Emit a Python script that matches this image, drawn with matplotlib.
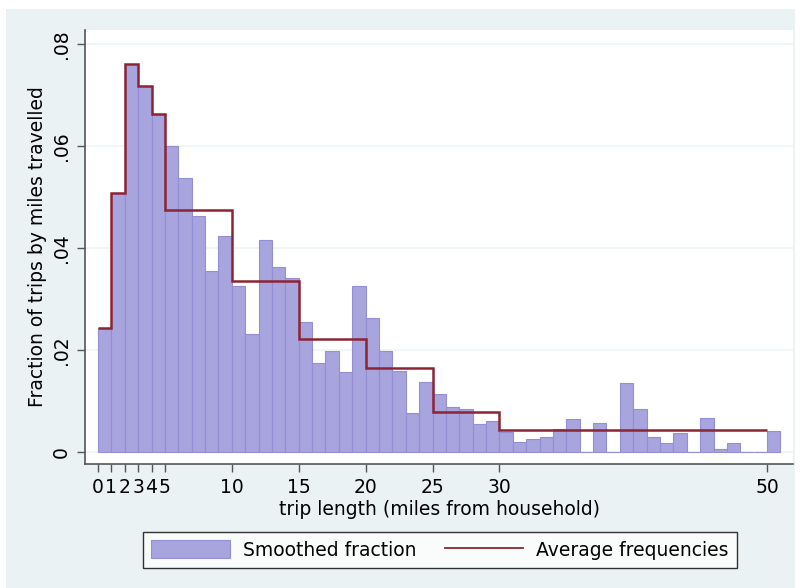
import matplotlib
matplotlib.use("Agg")
import matplotlib.pyplot as plt
from matplotlib.patches import Rectangle, Patch
from matplotlib.lines import Line2D

plt.rcParams['font.family'] = ['DejaVu Sans']

# Data
miles = list(range(0, 51))
smoothed_fraction = [
    0.0243, 0.0508, 0.0760, 0.0718, 0.0662, 0.0600, 0.0537, 0.0462, 0.0354, 0.0424,
    0.0326, 0.0230, 0.0415, 0.0362, 0.0340, 0.0255, 0.0174, 0.0198, 0.0156, 0.0325,
    0.0263, 0.0198, 0.0158, 0.0076, 0.0137, 0.0114, 0.0088, 0.0083, 0.0054, 0.0060,
    0.0039, 0.0020, 0.0025, 0.0029, 0.0044, 0.0065, 0.0, 0.0056, 0.0, 0.0135,
    0.0084, 0.0029, 0.0018, 0.0036, 0.0, 0.0067, 0.0005, 0.0018, 0.0, 0.0,
    0.0041,
]
avg_edges = [0, 1, 2, 3, 4, 5, 10, 15, 20, 25, 30, 50]
avg_freq = [0.0243, 0.0508, 0.0760, 0.0718, 0.0662, 0.0475, 0.0335, 0.0222, 0.0165, 0.0078, 0.0043]

xticks = [0, 1, 2, 3, 4, 5, 10, 15, 20, 25, 30, 50]
yticks = [0, 0.02, 0.04, 0.06, 0.08]
ytick_labels = ["0", ".02", ".04", ".06", ".08"]

FS = 13.5
W, H = 801, 588
fig = plt.figure(figsize=(W / 100, H / 100), dpi=100, facecolor='white')
fig.patches.append(Rectangle((6 / W, 0), 789 / W, (H - 9) / H, transform=fig.transFigure,
                             facecolor='#eaf2f3', edgecolor='none', zorder=-10))

ax = fig.add_axes([85 / W, (H - 464) / H, (793 - 85) / W, (464 - 30) / H])
ax.set_facecolor('white')

bar_color = (0.66, 0.645, 0.865)
ax.bar(miles, smoothed_fraction, width=1.0, align='edge', color=bar_color,
       edgecolor=(0.58, 0.56, 0.83), linewidth=0.8, zorder=2)
ax.stairs(avg_freq, avg_edges, baseline=None, color='#8c2434', linewidth=1.8, zorder=3)

ax.set_xlim(-0.97, 51.94)
ax.set_ylim(-0.0024, 0.0827)

ax.set_yticks(yticks)
ax.set_yticklabels(ytick_labels, rotation=90, va='center', fontsize=FS)
ax.set_xticks(xticks)
ax.set_xticklabels([str(t) for t in xticks], fontsize=FS)
ax.yaxis.grid(True, color='#edf3f5', linewidth=1.2, zorder=0)
ax.set_axisbelow(True)

for s in ['top', 'right']:
    ax.spines[s].set_visible(False)
for s in ['left', 'bottom']:
    ax.spines[s].set_color('#555555')
    ax.spines[s].set_linewidth(1.2)
ax.tick_params(axis='both', direction='out', length=6, width=1.0, color='#555555', pad=4)

ax.set_xlabel('trip length (miles from household)', fontsize=FS, labelpad=2)
ax.set_ylabel('Fraction of trips by miles travelled', fontsize=FS, labelpad=4)

handles = [Patch(facecolor=bar_color, edgecolor=(0.58, 0.56, 0.83), linewidth=0.8),
           Line2D([0], [0], color='#8c2434', linewidth=1.3)]
leg = fig.legend(handles, ['Smoothed fraction', 'Average frequencies'], ncol=2,
                 loc='center', bbox_to_anchor=(440 / W, (H - 550) / H),
                 fontsize=FS, frameon=True, fancybox=False, edgecolor='black',
                 handlelength=4.2, handleheight=1.1, columnspacing=1.5,
                 handletextpad=0.7, borderpad=0.45)
leg.get_frame().set_linewidth(1.0)

fig.savefig('out.png', dpi=100, facecolor=fig.get_facecolor())
